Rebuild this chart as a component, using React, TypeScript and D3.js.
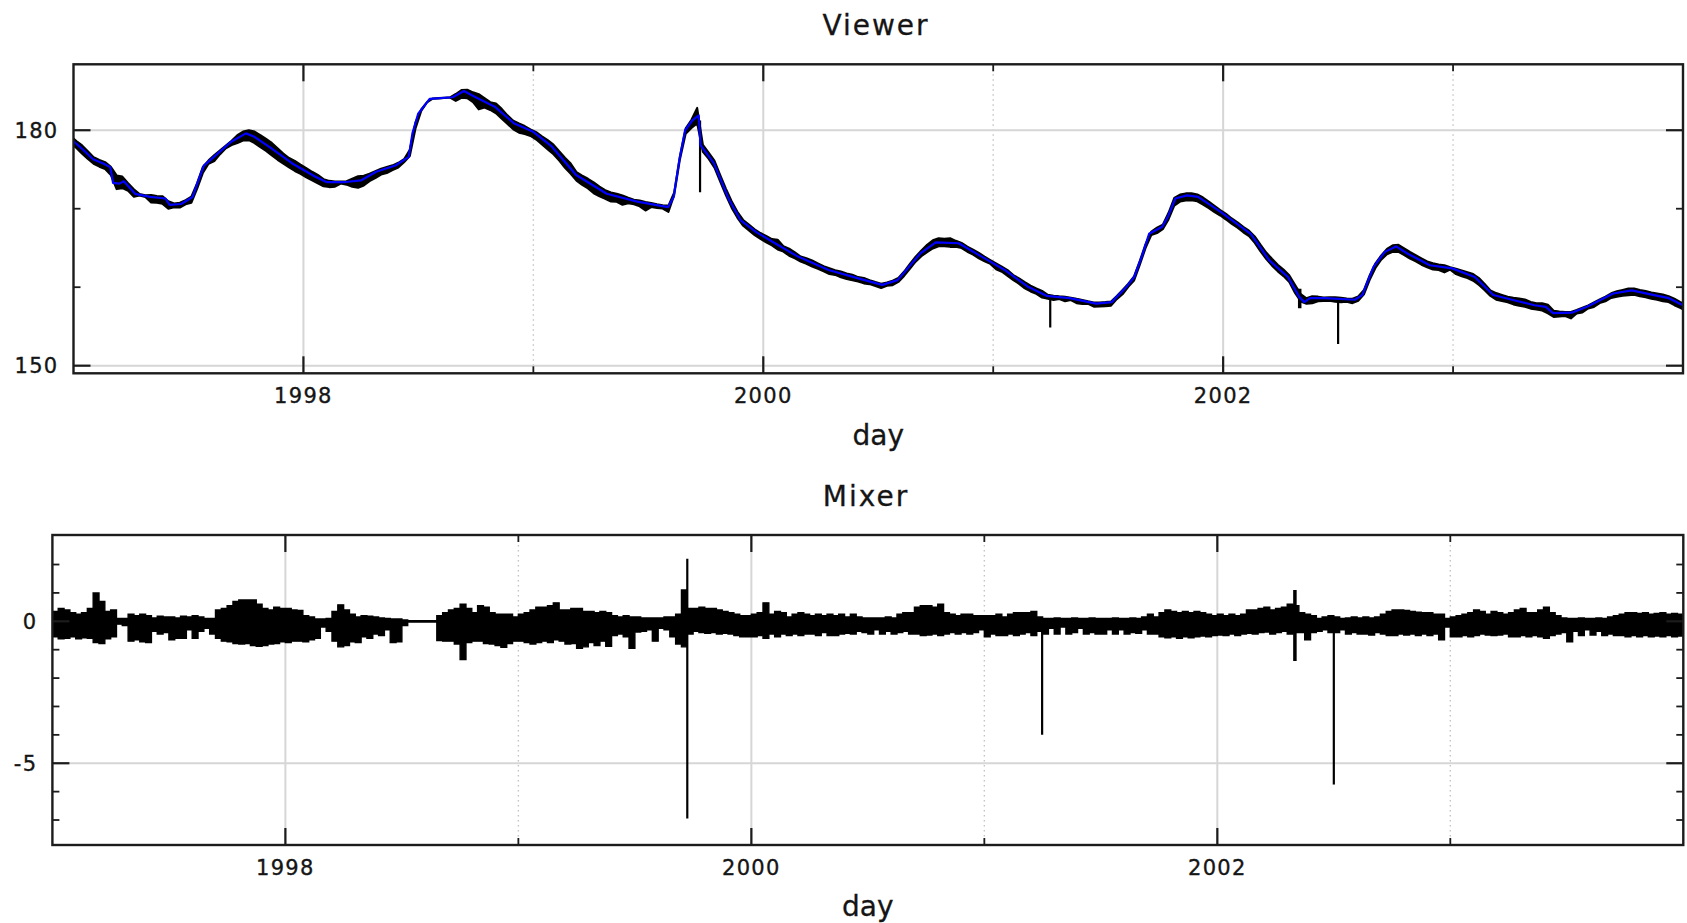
import React from 'react';
import * as d3 from 'd3';

// ---------- axis ticks ----------
const xMajorYears = [1998, 2000, 2002];
const xMinorYears = [1999, 2001, 2003];
const viewerYMajor = [150, 180];
const viewerYMinor = [160, 170];
const mixerYMajor = [0, -5];
const mixerYMinor = [2, 1, -1, -2, -3, -4, -6, -7];

// ---------- Viewer: filtered (blue) series, knots ----------
const viewerYears = [1997.0, 1997.044, 1997.085, 1997.127, 1997.16, 1997.172, 1997.2, 1997.219, 1997.268, 1997.334, 1997.4, 1997.418, 1997.468, 1997.518, 1997.543, 1997.567, 1997.634, 1997.684, 1997.75, 1997.784, 1997.85, 1997.95, 1998.05, 1998.1, 1998.183, 1998.25, 1998.316, 1998.4, 1998.458, 1998.474, 1998.499, 1998.549, 1998.649, 1998.698, 1998.749, 1998.832, 1998.915, 1999.0, 1999.081, 1999.186, 1999.319, 1999.452, 1999.586, 1999.61, 1999.635, 1999.66, 1999.693, 1999.719, 1999.727, 1999.785, 1999.852, 1999.902, 1999.968, 2000.051, 2000.151, 2000.284, 2000.417, 2000.517, 2000.584, 2000.683, 2000.75, 2000.85, 2000.95, 2001.05, 2001.149, 2001.232, 2001.332, 2001.448, 2001.515, 2001.581, 2001.613, 2001.646, 2001.678, 2001.735, 2001.76, 2001.792, 2001.843, 2001.891, 2001.989, 2002.12, 2002.2, 2002.282, 2002.33, 2002.353, 2002.378, 2002.443, 2002.573, 2002.605, 2002.654, 2002.703, 2002.752, 2002.801, 2002.899, 2002.996, 2003.094, 2003.175, 2003.256, 2003.354, 2003.403, 2003.435, 2003.516, 2003.582, 2003.696, 2003.777, 2003.874, 2003.939, 2004.0];
const viewerValues = [178.6, 177.45, 176.3, 175.8, 175.3, 173.3, 173.2, 173.5, 171.9, 171.5, 171.3, 170.5, 170.6, 171.5, 173.6, 175.5, 177.2, 178.5, 179.6, 179.2, 177.9, 175.8, 174.1, 173.4, 173.4, 173.6, 174.7, 175.5, 176.6, 179.6, 182.1, 184.0, 184.2, 185.0, 184.2, 183.0, 180.9, 179.8, 177.9, 174.3, 171.9, 170.9, 170.2, 171.5, 176.2, 180.0, 181.3, 181.9, 178.1, 175.8, 171.1, 168.5, 167.05, 165.6, 163.9, 162.2, 161.1, 160.3, 160.9, 164.3, 165.7, 165.6, 163.9, 162.2, 160.1, 158.9, 158.6, 157.9, 158.1, 160.1, 161.3, 163.9, 166.8, 167.7, 169.0, 171.3, 171.7, 171.5, 169.6, 166.8, 163.45, 161.3, 158.8, 158.1, 158.6, 158.6, 158.4, 159.0, 162.6, 164.5, 165.2, 164.3, 162.8, 162.4, 161.3, 159.0, 158.4, 157.7, 157.5, 156.7, 156.75, 157.5, 159.2, 159.6, 159.0, 158.6, 157.7];

// ---------- Mixer: residual envelope per 0.025-year bin ----------
const mixerStart = 1997;
const mixerStep = 0.025;
const mixerHigh = [
  0.35, 0.45, 0.40, 0.30, 0.25, 0.30, 0.45, 1.00, 0.70, 0.35,
  0.40, 0.10, 0.10, 0.25, 0.20, 0.25, 0.20, 0.12, 0.18, 0.15,
  0.15, 0.12, 0.18, 0.15, 0.20, 0.15, 0.10, 0.10, 0.40, 0.45,
  0.55, 0.70, 0.75, 0.75, 0.75, 0.60, 0.45, 0.40, 0.50, 0.45,
  0.45, 0.40, 0.38, 0.20, 0.15, 0.08, 0.08, 0.10, 0.35, 0.58,
  0.40, 0.25, 0.15, 0.20, 0.18, 0.15, 0.12, 0.10, 0.08, 0.08,
  0.05, 0.02, 0.02, 0.02, 0.02, 0.02, 0.20, 0.30, 0.40, 0.45,
  0.60, 0.45, 0.30, 0.55, 0.50, 0.30, 0.25, 0.25, 0.25, 0.15,
  0.25, 0.30, 0.40, 0.50, 0.50, 0.55, 0.65, 0.40, 0.40, 0.45,
  0.45, 0.35, 0.35, 0.30, 0.35, 0.30, 0.20, 0.15, 0.20, 0.15,
  0.15, 0.12, 0.12, 0.12, 0.12, 0.15, 0.15, 0.25, 1.10, 0.45,
  0.45, 0.50, 0.45, 0.45, 0.40, 0.35, 0.30, 0.25, 0.20, 0.20,
  0.25, 0.30, 0.65, 0.25, 0.35, 0.30, 0.15, 0.25, 0.30, 0.25,
  0.20, 0.25, 0.20, 0.25, 0.20, 0.25, 0.15, 0.25, 0.15, 0.12,
  0.12, 0.12, 0.12, 0.15, 0.12, 0.25, 0.30, 0.30, 0.50, 0.55,
  0.55, 0.50, 0.60, 0.30, 0.25, 0.20, 0.25, 0.25, 0.20, 0.20,
  0.20, 0.20, 0.25, 0.15, 0.25, 0.30, 0.30, 0.30, 0.35, 0.15,
  0.10, 0.10, 0.12, 0.10, 0.10, 0.12, 0.10, 0.10, 0.12, 0.10,
  0.10, 0.10, 0.12, 0.10, 0.10, 0.12, 0.10, 0.15, 0.25, 0.15,
  0.30, 0.40, 0.35, 0.30, 0.35, 0.30, 0.35, 0.30, 0.25, 0.20,
  0.25, 0.20, 0.25, 0.20, 0.25, 0.40, 0.40, 0.45, 0.50, 0.40,
  0.45, 0.50, 0.60, 0.55, 0.30, 0.25, 0.20, 0.10, 0.15, 0.20,
  0.15, 0.10, 0.12, 0.15, 0.12, 0.15, 0.12, 0.15, 0.25, 0.35,
  0.40, 0.40, 0.38, 0.35, 0.32, 0.30, 0.30, 0.25, 0.25, 0.10,
  0.15, 0.20, 0.25, 0.30, 0.40, 0.35, 0.25, 0.35, 0.30, 0.25,
  0.30, 0.40, 0.45, 0.30, 0.30, 0.40, 0.50, 0.30, 0.20, 0.12,
  0.10, 0.10, 0.12, 0.10, 0.10, 0.12, 0.10, 0.15, 0.20, 0.25,
  0.30, 0.30, 0.28, 0.30, 0.25, 0.28, 0.30, 0.25, 0.28, 0.25,
];
const mixerLow = [
  -0.55, -0.62, -0.60, -0.55, -0.62, -0.58, -0.60, -0.75, -0.78, -0.62,
  -0.55, -0.10, -0.15, -0.70, -0.65, -0.72, -0.75, -0.35, -0.45, -0.40,
  -0.65, -0.60, -0.60, -0.30, -0.60, -0.35, -0.25, -0.45, -0.60, -0.70,
  -0.72, -0.78, -0.80, -0.78, -0.85, -0.88, -0.85, -0.80, -0.78, -0.72,
  -0.75, -0.70, -0.70, -0.72, -0.65, -0.60, -0.20, -0.35, -0.70, -0.90,
  -0.85, -0.72, -0.75, -0.55, -0.60, -0.45, -0.50, -0.30, -0.75, -0.72,
  -0.15, -0.02, -0.02, -0.02, -0.02, -0.02, -0.68, -0.70, -0.70, -0.80,
  -1.35, -0.75, -0.70, -0.70, -0.78, -0.80, -0.85, -0.92, -0.78, -0.70,
  -0.70, -0.75, -0.80, -0.75, -0.70, -0.75, -0.65, -0.70, -0.80, -0.78,
  -0.95, -0.90, -0.75, -0.85, -0.70, -0.88, -0.50, -0.45, -0.55, -0.95,
  -0.38, -0.35, -0.30, -0.70, -0.25, -0.30, -0.55, -0.80, -0.90, -0.45,
  -0.35, -0.40, -0.42, -0.40, -0.45, -0.42, -0.45, -0.50, -0.55, -0.55,
  -0.55, -0.50, -0.60, -0.45, -0.55, -0.45, -0.50, -0.45, -0.50, -0.45,
  -0.45, -0.50, -0.40, -0.50, -0.50, -0.45, -0.42, -0.45, -0.35, -0.40,
  -0.45, -0.30, -0.45, -0.35, -0.45, -0.40, -0.35, -0.45, -0.45, -0.50,
  -0.48, -0.45, -0.50, -0.45, -0.40, -0.45, -0.40, -0.45, -0.40, -0.30,
  -0.55, -0.45, -0.50, -0.50, -0.45, -0.50, -0.45, -0.40, -0.50, -0.35,
  -0.45, -0.25, -0.45, -0.20, -0.45, -0.40, -0.25, -0.45, -0.40, -0.45,
  -0.45, -0.30, -0.45, -0.30, -0.45, -0.40, -0.42, -0.30, -0.45, -0.45,
  -0.55, -0.58, -0.55, -0.60, -0.55, -0.58, -0.55, -0.52, -0.55, -0.50,
  -0.48, -0.50, -0.45, -0.50, -0.45, -0.42, -0.45, -0.40, -0.38, -0.45,
  -0.40, -0.35, -0.45, -0.40, -0.40, -0.65, -0.40, -0.35, -0.30, -0.40,
  -0.40, -0.30, -0.45, -0.40, -0.45, -0.45, -0.48, -0.40, -0.45, -0.50,
  -0.50, -0.45, -0.48, -0.45, -0.50, -0.45, -0.50, -0.45, -0.65, -0.20,
  -0.55, -0.55, -0.50, -0.55, -0.50, -0.45, -0.48, -0.50, -0.48, -0.45,
  -0.55, -0.55, -0.50, -0.55, -0.50, -0.55, -0.60, -0.50, -0.45, -0.40,
  -0.72, -0.35, -0.50, -0.30, -0.48, -0.35, -0.50, -0.45, -0.50, -0.50,
  -0.55, -0.50, -0.55, -0.50, -0.55, -0.52, -0.55, -0.50, -0.55, -0.52,
];

// isolated outliers (single days)
const spikeYears = [1999.725, 2001.248, 2002.333, 2002.5];
const spikeHigh = [2.2, 0.1, 1.1, 0.1];
const spikeLow = [-6.95, -4.0, -1.4, -5.75];
const spikeWidth = [2.2, 2.2, 3.5, 2.2];

const FONT = '"DejaVu Sans", Verdana, sans-serif';
const FRAME = '#1c1c1c';
const GRID = '#d6d6d6';
const TEXT = '#151515';

type Lin = d3.ScaleLinear<number, number>;

function Grid({ x, y, yMajor }: { x: Lin; y: Lin; yMajor: number[] }) {
  const [x0, x1] = x.range();
  const [yb, yt] = y.range();
  return (
    <g>
      {xMajorYears.map((v) => (
        <line key={'gx' + v} x1={x(v)} x2={x(v)} y1={yt} y2={yb} stroke={GRID} strokeWidth={2} />
      ))}
      {xMinorYears.map((v) => (
        <line key={'gm' + v} x1={x(v)} x2={x(v)} y1={yt} y2={yb} stroke="#c4c4c4" strokeWidth={1.4} strokeDasharray="1.5 3.5" />
      ))}
      {yMajor.map((v) => (
        <line key={'gy' + v} x1={x0} x2={x1} y1={y(v)} y2={y(v)} stroke={GRID} strokeWidth={2} />
      ))}
    </g>
  );
}

function Axes({ x, y, yMajor, yMinor, title, titleX, titleY, labelY }: {
  x: Lin; y: Lin; yMajor: number[]; yMinor: number[]; title: string; titleX: number; titleY: number; labelY: number;
}) {
  const [x0, x1] = x.range();
  const [yb, yt] = y.range();
  const MAJ = 17;
  const MIN = 7;
  const tickText = { fontSize: 21, letterSpacing: 1.3, fill: TEXT, stroke: TEXT, strokeWidth: 0.35 };
  return (
    <g>
      {xMajorYears.map((v) => (
        <g key={'tx' + v}>
          <line x1={x(v)} x2={x(v)} y1={yb} y2={yb - MAJ} stroke={FRAME} strokeWidth={2.2} />
          <line x1={x(v)} x2={x(v)} y1={yt} y2={yt + MAJ} stroke={FRAME} strokeWidth={2.2} />
          <text x={x(v)} y={yb + 30} textAnchor="middle" {...tickText}>{v}</text>
        </g>
      ))}
      {xMinorYears.map((v) => (
        <g key={'tm' + v}>
          <line x1={x(v)} x2={x(v)} y1={yb} y2={yb - MIN} stroke={FRAME} strokeWidth={1.8} />
          <line x1={x(v)} x2={x(v)} y1={yt} y2={yt + MIN} stroke={FRAME} strokeWidth={1.8} />
        </g>
      ))}
      {yMajor.map((v) => (
        <g key={'ty' + v}>
          <line x1={x0} x2={x0 + MAJ} y1={y(v)} y2={y(v)} stroke={FRAME} strokeWidth={2.2} />
          <line x1={x1} x2={x1 - MAJ} y1={y(v)} y2={y(v)} stroke={FRAME} strokeWidth={2.2} />
          <text x={x0 - 15} y={y(v) + 7.5} textAnchor="end" {...tickText}>{String(v)}</text>
        </g>
      ))}
      {yMinor.map((v) => (
        <g key={'tn' + v}>
          <line x1={x0} x2={x0 + MIN} y1={y(v)} y2={y(v)} stroke={FRAME} strokeWidth={1.8} />
          <line x1={x1} x2={x1 - MIN} y1={y(v)} y2={y(v)} stroke={FRAME} strokeWidth={1.8} />
        </g>
      ))}
      <rect x={x0} y={yt} width={x1 - x0} height={yb - yt} fill="none" stroke={FRAME} strokeWidth={2.4} />
      <text x={titleX} y={titleY} textAnchor="middle" fontSize={28} letterSpacing={2} fill={TEXT} stroke={TEXT} strokeWidth={0.3}>{title}</text>
      <text x={(x0 + x1) / 2} y={labelY} textAnchor="middle" fontSize={28} fill={TEXT} stroke={TEXT} strokeWidth={0.3}>day</text>
    </g>
  );
}

export default function App() {
  const topX = d3.scaleLinear().domain([1997, 2004]).range([73.5, 1683]);
  const topY = d3.scaleLinear().domain([149.03, 188.4]).range([373.3, 64.3]);
  const botX = d3.scaleLinear().domain([1997, 2004]).range([52.4, 1683.3]);
  const botY = d3.scaleLinear().domain([-7.88, 3.04]).range([845, 535]);

  // piecewise-linear reading of the filtered series
  const viewerAt = d3.scaleLinear().domain(viewerYears).range(viewerValues).clamp(true);

  const bins = mixerHigh.map((h, i) => ({ i, t: mixerStart + i * mixerStep, hi: h, lo: mixerLow[i] }));
  const n = bins.length;

  // raw (black) series in the Viewer panel = filtered + residual
  const rawPts = [
    { t: 1997, hi: bins[0].hi, lo: bins[0].lo },
    ...bins.map((b) => ({ t: b.t + mixerStep / 2, hi: b.hi, lo: b.lo })),
    { t: 2004, hi: bins[n - 1].hi, lo: bins[n - 1].lo },
  ];
  const rawArea = d3.area<{ t: number; hi: number; lo: number }>()
    .x((d) => topX(d.t))
    .y0((d) => topY(viewerAt(d.t) + d.lo))
    .y1((d) => topY(viewerAt(d.t) + d.hi))(rawPts) || '';

  const blueLine = d3.line<number>()
    .x((_, i) => topX(viewerYears[i]))
    .y((v) => topY(v))(viewerValues) || '';

  const mixPts = [...bins.map((b) => ({ t: b.t, hi: b.hi, lo: b.lo })), { t: 2004, hi: bins[n - 1].hi, lo: bins[n - 1].lo }];
  const mixArea = d3.area<{ t: number; hi: number; lo: number }>()
    .curve(d3.curveStepAfter)
    .x((d) => botX(d.t))
    .y0((d) => botY(d.lo))
    .y1((d) => botY(d.hi))(mixPts) || '';

  const [tx0, tx1] = topX.range();
  const [ty0, ty1] = topY.range();
  const [bx0, bx1] = botX.range();
  const [by0, by1] = botY.range();

  return (
    <svg width={1687} height={923} style={{ position: 'absolute', left: 0, top: 0 }} fontFamily={FONT}>
      <rect x={0} y={0} width={1687} height={923} fill="#ffffff" />
      <defs>
        <clipPath id="clipTop"><rect x={tx0} y={ty1} width={tx1 - tx0} height={ty0 - ty1} /></clipPath>
        <clipPath id="clipBot"><rect x={bx0} y={by1} width={bx1 - bx0} height={by0 - by1} /></clipPath>
      </defs>

      {/* Viewer */}
      <Grid x={topX} y={topY} yMajor={viewerYMajor} />
      <g clipPath="url(#clipTop)">
        <path d={rawArea} fill="#000" stroke="#000" strokeWidth={2} strokeLinejoin="round" />
        {spikeYears.map((t, i) => (
          <line key={'st' + i} x1={topX(t)} x2={topX(t)}
            y1={topY(viewerAt(t) + spikeHigh[i])} y2={topY(viewerAt(t) + spikeLow[i])}
            stroke="#000" strokeWidth={spikeWidth[i]} />
        ))}
        <path d={blueLine} fill="none" stroke="#0000ff" strokeWidth={2.2} strokeLinejoin="round" />
      </g>
      <Axes x={topX} y={topY} yMajor={viewerYMajor} yMinor={viewerYMinor}
        title="Viewer" titleX={876} titleY={35} labelY={445} />

      {/* Mixer */}
      <Grid x={botX} y={botY} yMajor={mixerYMajor} />
      <g clipPath="url(#clipBot)">
        <line x1={bx0} x2={bx1} y1={botY(0)} y2={botY(0)} stroke="#000" strokeWidth={2.5} />
        <path d={mixArea} fill="#000" stroke="#000" strokeWidth={1.4} />
        {spikeYears.map((t, i) => (
          <line key={'sb' + i} x1={botX(t)} x2={botX(t)} y1={botY(spikeHigh[i])} y2={botY(spikeLow[i])}
            stroke="#000" strokeWidth={spikeWidth[i]} />
        ))}
      </g>
      <Axes x={botX} y={botY} yMajor={mixerYMajor} yMinor={mixerYMinor}
        title="Mixer" titleX={866} titleY={506} labelY={916} />
    </svg>
  );
}
